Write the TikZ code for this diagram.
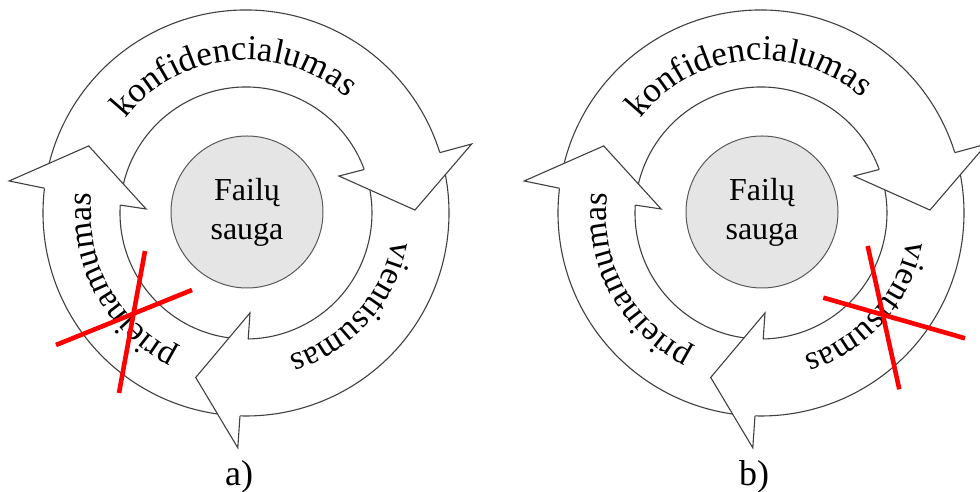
\documentclass[tikz,border=0pt]{standalone}
\usepackage{fontspec}
\setmainfont{Liberation Serif}
\usetikzlibrary{decorations.text}

\newcommand\arcfont{\fontsize{17}{17}\selectfont}
\newcommand\toparcfont{\fontsize{17.5}{17.5}\selectfont}

\tikzset{
  ring/.style={draw=black!75, line width=0.55pt, line join=miter},
  hub/.style={circle, draw=black!65, line width=0.5pt, fill=black!10,
    minimum size=76pt, inner sep=0pt, align=center,
    font=\fontsize{16}{19.5}\selectfont},
  cross/.style={draw=red, line width=2.3pt},
  caption/.style={font=\fontsize{18}{20}\selectfont, anchor=base, inner sep=0pt},
  arclabel/.style={decorate, decoration={text along path, text={|\arcfont|#1}, text align=center}},
  toplabel/.style={decorate, decoration={text along path, text={|\toparcfont|#1}, text align=center}},
}

% One cycle of three curved arrows round the central hub; #1 prefixes node names
\newcommand\safetycycle[1]{%
  % arrow shafts (tails end under the preceding arrow head)
  \draw[ring] (170:203) arc[start angle=170, end angle=17.3, radius=203];
  \draw[ring] (20.2:126) arc[start angle=20.2, end angle=170, radius=126];
  \draw[ring] (14:203) arc[start angle=14, end angle=-91.7, radius=203];
  \draw[ring] (-89:126) arc[start angle=-89, end angle=14, radius=126];
  \draw[ring] (265:203) arc[start angle=265, end angle=173, radius=203];
  \draw[ring] (176.4:126) arc[start angle=176.4, end angle=265, radius=126];
  % arrow heads
  \fill[white] (17.3:203) -- (17:236) -- (1:169) -- (21.7:100) -- (20.2:126) -- cycle;
  \draw[ring] (17.3:203) -- (17:236) -- (1:169) -- (21.7:100) -- (20.2:126);
  \fill[white] (-91.7:203) -- (-92:235) -- (-107:172) -- (-87.7:100) -- (-89:126) -- cycle;
  \draw[ring] (-91.7:203) -- (-92:235) -- (-107:172) -- (-87.7:100) -- (-89:126);
  \fill[white] (173:203) -- (172.3:239) -- (156.9:171) -- (177.7:100) -- (176.4:126) -- cycle;
  \draw[ring] (173:203) -- (172.3:239) -- (156.9:171) -- (177.7:100) -- (176.4:126);
  % labels along the arrows
  \path[toplabel=konfidencialumas] (150:153) arc[start angle=150, end angle=41, radius=153];
  \path[arclabel=vientisumas] (18:149) arc[start angle=18, end angle=-102, radius=149];
  \path[arclabel=prieinamumas] (268:155) arc[start angle=268, end angle=148.6, radius=155];
  % centre
  \node[hub] (#1hub) at (1,1) {Failų\\sauga};
}

\begin{document}
\begin{tikzpicture}[x=0.5pt, y=0.5pt]
  \useasboundingbox (0,0) rectangle (980,492);
  \clip (0,0) rectangle (980,492);
  \fill[white] (0,0) rectangle (980,492);

  \begin{scope}[shift={(246,279)}]
    \safetycycle{a}
  \end{scope}
  \begin{scope}[shift={(761,279)}]
    \safetycycle{b}
  \end{scope}

  % crossed-out properties
  \draw[cross] (145,241) -- (119,99);
  \draw[cross] (56,147) -- (192,202);
  \draw[cross] (867.7,246) -- (899.3,102.7);
  \draw[cross] (823.3,194.3) -- (965,153.7);

  % captions
  \node[caption] (capa) at (239,6) {a)};
  \node[caption] (capb) at (754,6) {b)};
\end{tikzpicture}
\end{document}
